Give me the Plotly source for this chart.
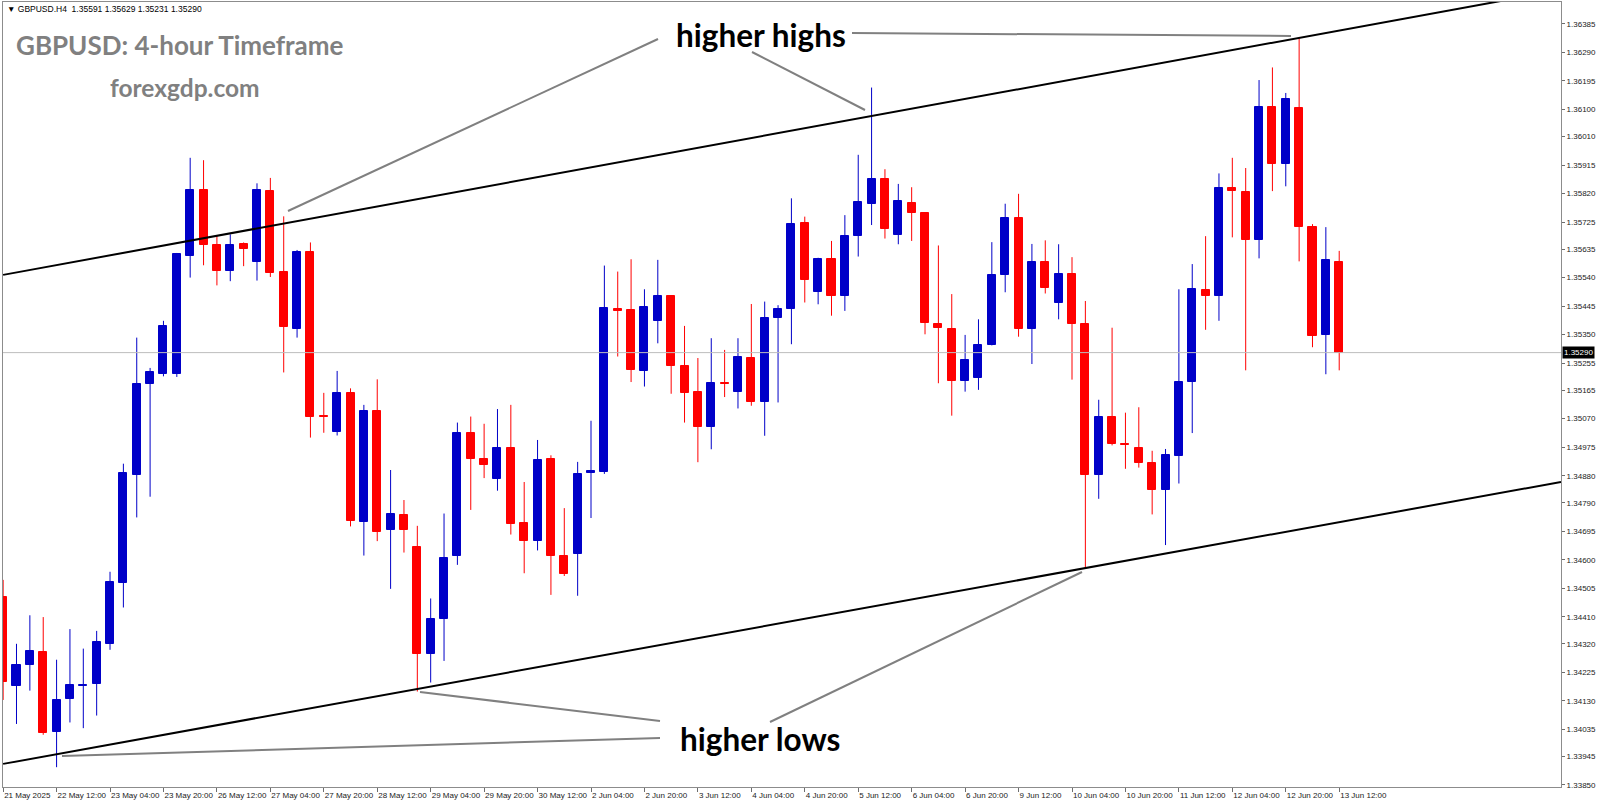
import plotly.graph_objects as go

# ---------------- data (GBPUSD H4) ----------------
open_ = [1.34477, 1.34180, 1.34249, 1.34293, 1.34027, 1.34136, 1.34180, 1.34187, 1.34319, 1.34524,
         1.34883, 1.35184, 1.35220, 1.35219, 1.35612, 1.35832, 1.35650, 1.35562, 1.35652, 1.35593,
         1.35830, 1.35559, 1.35370, 1.35626, 1.35078, 1.35025, 1.35157, 1.34726, 1.35096, 1.34698,
         1.34749, 1.34644, 1.34285, 1.34404, 1.34611, 1.35022, 1.34935, 1.34869, 1.34972, 1.34721,
         1.34661, 1.34937, 1.34613, 1.34620, 1.34889, 1.34892, 1.35437, 1.35432, 1.35228, 1.35396,
         1.35477, 1.35246, 1.35160, 1.35043, 1.35188, 1.35159, 1.35272, 1.35126, 1.35405, 1.35436,
         1.35721, 1.35493, 1.35602, 1.35479, 1.35677, 1.35786, 1.35869, 1.35683, 1.35788, 1.35754,
         1.35385, 1.35368, 1.35197, 1.35207, 1.35316, 1.35549, 1.35739, 1.35368, 1.35591, 1.35454,
         1.35551, 1.35384, 1.34881, 1.35076, 1.34987, 1.34973, 1.34923, 1.34831, 1.34947, 1.35193,
         1.35498, 1.35480, 1.35838, 1.35825, 1.35665, 1.36109, 1.35920, 1.36106, 1.35708, 1.35348,
         1.35591]
high = [1.34533, 1.34320, 1.34415, 1.34409, 1.34267, 1.34369, 1.34304, 1.34363, 1.34560, 1.34920,
        1.35340, 1.35239, 1.35396, 1.35622, 1.35939, 1.35931, 1.35680, 1.35684, 1.35657, 1.35854,
        1.35872, 1.35744, 1.35632, 1.35657, 1.35156, 1.35229, 1.35171, 1.35116, 1.35201, 1.34899,
        1.34799, 1.34713, 1.34471, 1.34754, 1.35057, 1.35077, 1.35053, 1.35102, 1.35116, 1.34859,
        1.34999, 1.34948, 1.34772, 1.34926, 1.35063, 1.35580, 1.35560, 1.35601, 1.35501, 1.35599,
        1.35479, 1.35379, 1.35272, 1.35338, 1.35299, 1.35338, 1.35452, 1.35460, 1.35448, 1.35804,
        1.35743, 1.35606, 1.35662, 1.35748, 1.35949, 1.36173, 1.35901, 1.35852, 1.35841, 1.35757,
        1.35647, 1.35485, 1.35349, 1.35401, 1.35658, 1.35786, 1.35819, 1.35652, 1.35664, 1.35651,
        1.35608, 1.35462, 1.35133, 1.35373, 1.35090, 1.35108, 1.34963, 1.34969, 1.35501, 1.35585,
        1.35678, 1.35887, 1.35939, 1.35905, 1.36198, 1.36240, 1.36155, 1.36337, 1.35718, 1.35708,
        1.35629]
low = [1.34133, 1.34053, 1.34164, 1.34017, 1.33909, 1.34058, 1.34039, 1.34081, 1.34300, 1.34441,
       1.34741, 1.34810, 1.35211, 1.35209, 1.35540, 1.35581, 1.35514, 1.35528, 1.35578, 1.35530,
       1.35542, 1.35224, 1.35340, 1.35007, 1.35023, 1.35014, 1.34711, 1.34614, 1.34662, 1.34503,
       1.34624, 1.34161, 1.34191, 1.34263, 1.34583, 1.34766, 1.34872, 1.34830, 1.34684, 1.34555,
       1.34631, 1.34483, 1.34546, 1.34480, 1.34739, 1.34886, 1.35277, 1.35192, 1.35177, 1.35321,
       1.35153, 1.35057, 1.34925, 1.34968, 1.35142, 1.35104, 1.35113, 1.35013, 1.35124, 1.35318,
       1.35457, 1.35451, 1.35413, 1.35429, 1.35610, 1.35715, 1.35670, 1.35651, 1.35662, 1.35351,
       1.35188, 1.35080, 1.35160, 1.35166, 1.35314, 1.35491, 1.35343, 1.35252, 1.35487, 1.35401,
       1.35200, 1.34575, 1.34803, 1.34981, 1.34903, 1.34907, 1.34751, 1.34649, 1.34854, 1.35022,
       1.35366, 1.35396, 1.35674, 1.35231, 1.35604, 1.35828, 1.35844, 1.35594, 1.35308, 1.35218,
       1.35231]
close = [1.34194, 1.34250, 1.34296, 1.34024, 1.34133, 1.34183, 1.34182, 1.34326, 1.34526, 1.34889,
         1.35185, 1.35226, 1.35379, 1.35617, 1.35832, 1.35648, 1.35562, 1.35648, 1.35636, 1.35832,
         1.35556, 1.35374, 1.35626, 1.35076, 1.35074, 1.35157, 1.34728, 1.35096, 1.34694, 1.34751,
         1.34700, 1.34287, 1.34403, 1.34606, 1.35022, 1.34934, 1.34917, 1.34972, 1.34720, 1.34663,
         1.34933, 1.34611, 1.34553, 1.34887, 1.34896, 1.35438, 1.35430, 1.35233, 1.35443, 1.35480,
         1.35246, 1.35157, 1.35043, 1.35188, 1.35184, 1.35275, 1.35126, 1.35405, 1.35435, 1.35719,
         1.35532, 1.35602, 1.35477, 1.35677, 1.35793, 1.35868, 1.35701, 1.35794, 1.35754, 1.35388,
         1.35371, 1.35197, 1.35266, 1.35316, 1.35549, 1.35739, 1.35368, 1.35591, 1.35504, 1.35551,
         1.35384, 1.34881, 1.35076, 1.34987, 1.34983, 1.34923, 1.34831, 1.34948, 1.35191, 1.35502,
         1.35477, 1.35838, 1.35830, 1.35665, 1.36109, 1.35920, 1.36134, 1.35707, 1.35345, 1.35597,
         1.35290]

x_tick_idx = list(range(0, 101, 4))
x_tick_labels = ["21 May 2025", "22 May 12:00", "23 May 04:00", "23 May 20:00", "26 May 12:00",
                 "27 May 04:00", "27 May 20:00", "28 May 12:00", "29 May 04:00", "29 May 20:00",
                 "30 May 12:00", "2 Jun 04:00", "2 Jun 20:00", "3 Jun 12:00", "4 Jun 04:00",
                 "4 Jun 20:00", "5 Jun 12:00", "6 Jun 04:00", "6 Jun 20:00", "9 Jun 12:00",
                 "10 Jun 04:00", "10 Jun 20:00", "11 Jun 12:00", "12 Jun 04:00", "12 Jun 20:00",
                 "13 Jun 12:00"]
y_tick_vals = [1.36385, 1.36290, 1.36195, 1.36100, 1.36010, 1.35915, 1.35820, 1.35725, 1.35635,
               1.35540, 1.35445, 1.35350, 1.35255, 1.35165, 1.35070, 1.34975, 1.34880, 1.34790,
               1.34695, 1.34600, 1.34505, 1.34410, 1.34320, 1.34225, 1.34130, 1.34035, 1.33945,
               1.33850]

current_price = 1.35290
upper_trend_x = [0, 116.6]
upper_trend_y = [1.35549, 1.36498]
lower_trend_x = [0, 116.6]
lower_trend_y = [1.33920, 1.34859]

# ---------------- styling ----------------
BLUE = "#0000C8"
RED = "#FF0000"
W, H = 1600, 805
L, R, T, B = 3, 39, 2, 18
PW, PH = W - L - R, H - T - B


def px(xp, yp):
    """pixel position (page) -> paper coordinates"""
    return (xp - L) / PW, 1 - (yp - T) / PH


n = len(open_)
idx = list(range(n))
up = [c >= o for o, c in zip(open_, close)]

fig = go.Figure()

# wicks
for flag, col in ((True, BLUE), (False, RED)):
    wx, wy = [], []
    for i in idx:
        if up[i] == flag:
            wx += [i, i, None]
            wy += [low[i], high[i], None]
    fig.add_trace(go.Scatter(x=wx, y=wy, mode="lines", line=dict(color=col, width=1),
                             hoverinfo="skip", showlegend=False))

# bodies
body_base = [min(o, c) for o, c in zip(open_, close)]
body_h = [max(abs(c - o), 0.000001) for o, c in zip(open_, close)]
cols = [BLUE if u else RED for u in up]
fig.add_trace(go.Bar(x=idx, y=body_h, base=body_base, width=0.6,
                     marker=dict(color=cols, line=dict(color=cols, width=1)),
                     hoverinfo="skip", showlegend=False))

# current price line
fig.add_trace(go.Scatter(x=[-1, 120], y=[current_price, current_price], mode="lines",
                         line=dict(color="#BDBDBD", width=1), hoverinfo="skip", showlegend=False))

# channel trend lines
fig.add_trace(go.Scatter(x=upper_trend_x, y=upper_trend_y, mode="lines",
                         line=dict(color="#000000", width=2), hoverinfo="skip", showlegend=False))
fig.add_trace(go.Scatter(x=lower_trend_x, y=lower_trend_y, mode="lines",
                         line=dict(color="#000000", width=2), hoverinfo="skip", showlegend=False))

# connector lines (annotation decorations, page pixel positions)
connectors = [
    ((658, 39), (288, 211)),
    ((752, 52), (865, 110)),
    ((852, 33), (1291, 36)),
    ((660, 721), (420, 692)),
    ((660, 738), (62, 756)),
    ((770, 722), (1082, 572)),
]
shapes = []
for (xa, ya), (xb, yb) in connectors:
    p0 = px(xa, ya)
    p1 = px(xb, yb)
    shapes.append(dict(type="line", xref="paper", yref="paper", x0=p0[0], y0=p0[1],
                       x1=p1[0], y1=p1[1], line=dict(color="#808080", width=2)))

annotations = []


def add_text(text, xp, yp, size, color, bold=True, family="Lato", xanchor="center"):
    p = px(xp, yp)
    annotations.append(dict(xref="paper", yref="paper", x=p[0], y=p[1], text=("<b>%s</b>" % text) if bold else text,
                            showarrow=False, xanchor=xanchor, yanchor="middle",
                            font=dict(size=size, color=color, family=family)))


add_text("higher highs", 761, 35, 31.5, "#000000")
add_text("higher lows", 760, 739, 31.5, "#000000")
add_text("GBPUSD: 4-hour Timeframe", 180, 45, 26, "#808080")
add_text("forexgdp.com", 185, 88, 24.5, "#808080")
add_text("\u25bc GBPUSD.H4  1.35591 1.35629 1.35231 1.35290", 5, 9, 8.5, "#000000",
         bold=False, family="Liberation Sans", xanchor="left")

# current price tag on the axis
annotations.append(dict(xref="paper", yref="y", x=1, y=current_price, xanchor="left", yanchor="middle",
                        xshift=1, text="1.35290", showarrow=False, bgcolor="#000000", borderpad=1,
                        font=dict(size=8, color="#FFFFFF", family="Liberation Sans")))

fig.update_layout(
    width=W, height=H,
    margin=dict(l=L, r=R, t=T, b=B, pad=0, autoexpand=False),
    paper_bgcolor="#FFFFFF", plot_bgcolor="#FFFFFF",
    showlegend=False, bargap=0,
    shapes=shapes, annotations=annotations,
    xaxis=dict(range=[-0.01, 116.6], tickvals=x_tick_idx, ticktext=x_tick_labels,
               showgrid=False, zeroline=False, showline=True, mirror=True, linecolor="#8C8C8C",
               linewidth=1, ticks="outside", ticklen=4, tickcolor="#6E6E6E",
               ticklabelposition="outside right", tickangle=0, automargin=False,
               tickfont=dict(size=8, color="#222222", family="Liberation Sans")),
    yaxis=dict(range=[1.33843, 1.36458], side="right", tickvals=y_tick_vals,
               ticktext=["%.5f" % v for v in y_tick_vals], automargin=False,
               showgrid=False, zeroline=False, showline=True, mirror=True, linecolor="#8C8C8C",
               linewidth=1, ticks="outside", ticklen=3, tickcolor="#6E6E6E",
               tickfont=dict(size=8, color="#222222", family="Liberation Sans")),
)

fig.write_html("out.html", config={"displayModeBar": False},
               post_script="document.body.style.margin='0';document.body.style.overflow='hidden';")
